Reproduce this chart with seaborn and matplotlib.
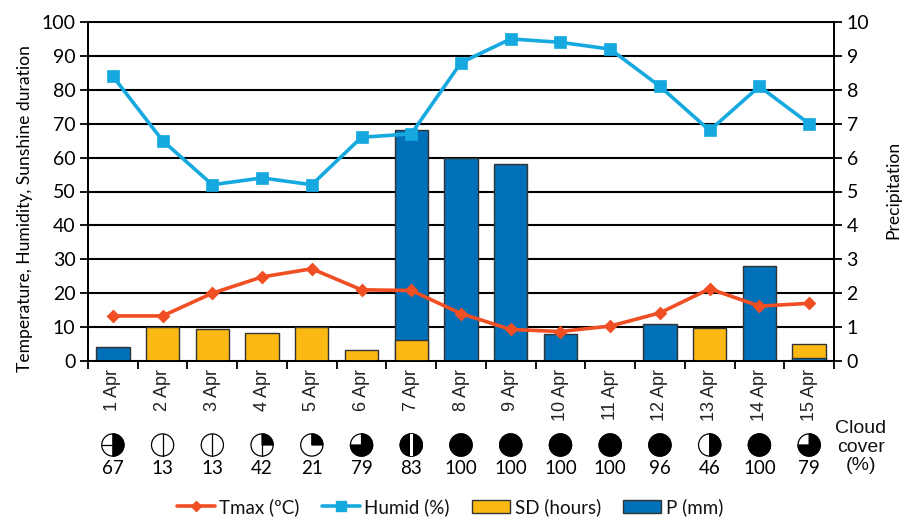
import numpy as np
import pandas as pd
import matplotlib
matplotlib.use("Agg")
import matplotlib.pyplot as plt
import seaborn as sns
from matplotlib.lines import Line2D
from matplotlib.patches import Patch, Circle, Wedge, Rectangle
from matplotlib.offsetbox import DrawingArea, AnnotationBbox

days = ["1 Apr", "2 Apr", "3 Apr", "4 Apr", "5 Apr", "6 Apr", "7 Apr", "8 Apr",
        "9 Apr", "10 Apr", "11 Apr", "12 Apr", "13 Apr", "14 Apr", "15 Apr"]
tmax = [13.3, 13.3, 20, 24.8, 27.2, 21, 20.8, 14, 9.3, 8.7, 10.3, 14.2, 21.3, 16.2, 17]
humid = [84, 65, 52, 54, 52, 66, 67, 88, 95, 94, 92, 81, 68, 81, 70]
sd_hours = [0, 10, 9.3, 8.2, 10, 3.1, 6.3, 0, 0, 0, 0, 0, 9.7, 0, 5]
precip_mm = [0.4, 0, 0, 0, 0, 0, 6.8, 6.0, 5.8, 0.8, 0, 1.1, 0, 2.8, 0.1]
cloud_pct = [67, 13, 13, 42, 21, 79, 83, 100, 100, 100, 100, 96, 46, 100, 79]
cloud_oktas = [5, 1, 1, 3, 2, 6, 7, 8, 8, 8, 8, 8, 4, 8, 6]

C_TMAX = "#f04e23"
C_HUMID = "#16a9e0"
C_SD = "#fdb913"
C_P = "#0070b8"
EDGE = "#333333"
CALIBRI = "Lato"

sns.set_theme(style="white")
plt.rcParams["font.family"] = [CALIBRI, "DejaVu Sans"]


def okta_symbol(oktas, r=8.0):
    # weather map style cloud symbol, drawn in points
    box = DrawingArea(2 * r, 2 * r, 0, 0)
    c = (r, r)
    lw = 0.9
    box.add_artist(Circle(c, r, fc="white", ec="black", lw=lw))
    if oktas == 8:
        box.add_artist(Circle(c, r, fc="black", ec="black", lw=lw))
    elif oktas == 7:
        box.add_artist(Circle(c, r, fc="black", ec="black", lw=lw))
        box.add_artist(Rectangle((r - 1.1, 0.2), 2.2, 2 * r - 0.4, fc="white", ec="none"))
    elif oktas in (2, 3):
        box.add_artist(Wedge(c, r, 0, 90, fc="black", ec="black", lw=lw))
    elif oktas in (4, 5):
        box.add_artist(Wedge(c, r, -90, 90, fc="black", ec="black", lw=lw))
    elif oktas == 6:
        box.add_artist(Wedge(c, r, -180, 90, fc="black", ec="black", lw=lw))
    if oktas in (1, 3):
        box.add_artist(Line2D([r, r], [0, 2 * r], color="black", lw=lw))
    if oktas == 5:
        box.add_artist(Line2D([r, r], [0, 2 * r], color="black", lw=lw))
        box.add_artist(Line2D([0, r], [r, r], color="black", lw=lw))
    return box


bars = pd.DataFrame({
    "day": days,
    "sd": sd_hours,
    "p": [v * 10 for v in precip_mm],
})
bars["tall"] = bars[["sd", "p"]].max(axis=1)
bars["short"] = bars[["sd", "p"]].min(axis=1)
bars["tall_series"] = np.where(bars["sd"] >= bars["p"], "SD", "P")
bars["short_series"] = np.where(bars["sd"] >= bars["p"], "P", "SD")
palette = {"SD": C_SD, "P": C_P}

fig = plt.figure(figsize=(9.09, 5.19), dpi=100)
ax = fig.add_axes([88 / 909, 1 - 361 / 519, 746 / 909, 339 / 519])

for height, series in [("tall", "tall_series"), ("short", "short_series")]:
    sns.barplot(data=bars, x="day", y=height, hue=series, order=days, hue_order=["SD", "P"],
                palette=palette, dodge=False, width=0.67, saturation=1, legend=False,
                edgecolor=EDGE, linewidth=1.0, zorder=3, ax=ax)

sns.pointplot(x=days, y=tmax, order=days, color=C_TMAX, markers="D", markersize=5.5,
              linewidth=2.6, errorbar=None, ax=ax, zorder=5)
sns.pointplot(x=days, y=humid, order=days, color=C_HUMID, markers="s", markersize=7,
              linewidth=2.6, errorbar=None, ax=ax, zorder=5)

ax.set_xlim(-0.5, 14.5)
ax.set_ylim(0, 100)
ax.set_yticks(np.arange(0, 101, 10))
ax.grid(axis="y", color="black", lw=1.5, zorder=1)
ax.set_axisbelow(True)
ax.set_xlabel("")
ax.set_ylabel("Temperature, Humidity, Sunshine duration", fontsize=12.6, labelpad=6, color="black", y=0.45)
for s in ax.spines.values():
    s.set_visible(True)
    s.set_color("black")
    s.set_linewidth(1.3)
ax.set_xticks(np.arange(15))
ax.set_xticklabels(days, rotation=90, fontsize=13, family="Liberation Sans", color="#222222")
ax.set_xticks(np.arange(-0.5, 15), minor=True)
ax.tick_params(axis="x", which="major", length=0, pad=6)
ax.tick_params(axis="x", which="minor", length=6, width=1.3, color="black", bottom=True)
ax.tick_params(axis="y", length=6, width=1.3, color="black", labelsize=14, left=True, pad=3, labelcolor="black")

ax2 = ax.twinx()
ax2.set_ylim(0, 10)
ax2.set_yticks(np.arange(0, 11))
ax2.grid(False)
ax2.set_ylabel("Precipitation", fontsize=12.6, labelpad=12, color="black", y=0.505)
ax2.tick_params(axis="y", length=6, width=1.3, color="black", labelsize=14, right=True, pad=3, labelcolor="black")
for s in ax2.spines.values():
    s.set_color("black")
    s.set_linewidth(1.3)

# cloud cover row under the day labels
trans = ax.get_xaxis_transform()
sym_y = -(445 - 361) / 339
num_y = -(468 - 361) / 339
for i, (pct, okta) in enumerate(zip(cloud_pct, cloud_oktas)):
    ab = AnnotationBbox(okta_symbol(okta), (i, sym_y), xycoords=trans, frameon=False,
                        box_alignment=(0.5, 0.5), pad=0, annotation_clip=False)
    ax.add_artist(ab)
    ax.text(i, num_y, str(pct), transform=trans, ha="center", va="center", fontsize=13.5,
            color="black", clip_on=False)

fig.text(861 / 909, 1 - 447 / 519, "Cloud\ncover\n(%)", ha="center", va="center", fontsize=14,
         family="Liberation Sans", color="#111111", linespacing=1.13)

handles = [
    Line2D([], [], color=C_TMAX, marker="D", ms=5.5, lw=2.6, label="Tmax (ºC)"),
    Line2D([], [], color=C_HUMID, marker="s", ms=7, lw=2.6, label="Humid (%)"),
    Patch(fc=C_SD, ec=EDGE, lw=1, label="SD (hours)"),
    Patch(fc=C_P, ec=EDGE, lw=1, label="P (mm)"),
]
fig.legend(handles=handles, loc="center", bbox_to_anchor=(450 / 909, 1 - 507 / 519), ncol=4,
           frameon=False, fontsize=13.5, handlelength=2.0, columnspacing=1.2, handletextpad=0.25,
           labelcolor="#111111")

fig.savefig("out.png", dpi=100)
